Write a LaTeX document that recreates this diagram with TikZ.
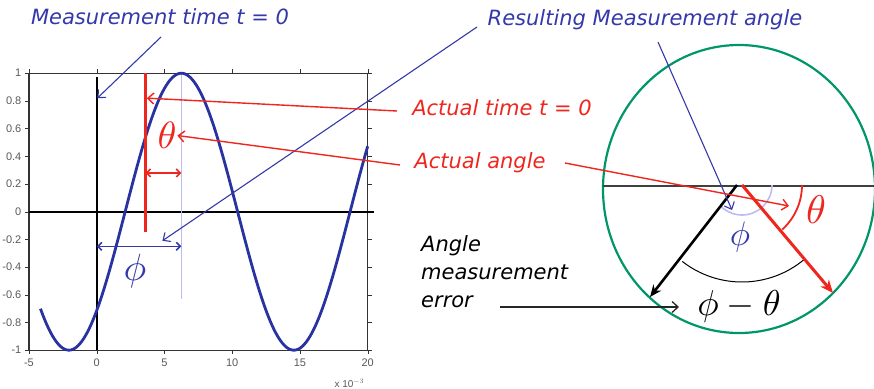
\documentclass[tikz,border=0pt]{standalone}
\usepackage{fontspec}
\setmainfont{DejaVu Sans}
\newfontfamily\tickfont{Liberation Sans}
\usetikzlibrary{arrows.meta}
\definecolor{mblue}{RGB}{52,56,170}
\definecolor{cblue}{RGB}{40,50,160}
\definecolor{mred}{RGB}{238,38,30}
\definecolor{mgreen}{RGB}{0,150,105}
\definecolor{lblue}{RGB}{188,188,242}
\tikzset{
  callout/.style={font=\fontsize{21}{28}\selectfont\itshape},
  bluearrow/.style={draw=mblue, line width=1.1pt, -{Straight Barb[length=6pt,width=11pt]}},
  redarrow/.style={draw=mred, line width=1.4pt, -{Straight Barb[length=6pt,width=11pt]}},
  ticklabel/.style={font=\tickfont\fontsize{11}{13}\selectfont, text=black!65},
  bigsym/.style={scale=3.8, inner sep=0pt},
}
\begin{document}
\begin{tikzpicture}[x=1pt, y=-1pt]
    \useasboundingbox (0,0) rectangle (874,388);
    % plot
    \begin{scope}[shift={(96.7,211.7)}, x=13.55pt, y=138.5pt]
        \draw[line width=1.2pt, black!80] (-5,-1) rectangle (20,1);
        \foreach \x in {-5,0,5,10,15,20} {
            \draw[black!80] (\x,-1) -- ++(0,-4pt);
            \draw[black!80] (\x,1) -- ++(0,4pt);
            \node[ticklabel, anchor=north] at (\x,-1.04) {\x};
        }
        \foreach \y in {-1,-0.8,-0.6,-0.4,-0.2,0,0.2,0.4,0.6,0.8,1} {
            \draw[black!80] (-5,\y) -- ++(-4pt,0);
            \draw[black!80] (20,\y) -- ++(4pt,0);
            \node[ticklabel, anchor=east] at (-5.3,\y) {\y};
        }
        \node[ticklabel, anchor=east, font=\tickfont\fontsize{10}{12}\selectfont] at (20,-1.24) {x 10$^{-3}$};
        \draw[line width=2pt] (-5,0) -- (20.5,0);
        \draw[line width=2pt] (0,0.97) -- (0,-1);
        \draw[lblue, line width=0.8pt] (6.25,1) -- (6.25,-0.63);
        \draw[cblue, line width=2.8pt, domain=-4.15:20, samples=150, smooth]
            plot (\x, {cos(360*(\x-6.25)/16.6)});
        \draw[mred, line width=2.5pt] (3.6,1) -- (3.6,-0.15);
        \draw[mred, line width=1.6pt, {Straight Barb[length=4pt,width=8pt]}-{Straight Barb[length=4pt,width=8pt]}] (3.6,0.28) -- (6.25,0.28);
        \draw[mblue, line width=1.6pt, {Straight Barb[length=4pt,width=8pt]}-{Straight Barb[length=4pt,width=8pt]}] (0,-0.25) -- (6.25,-0.25);
        \node[bigsym, text=mred] (thetaplot) at (5.2,0.55) {$\theta$};
        \node[bigsym, text=mblue] (phiplot) at (2.83,-0.43) {$\phi$};
        \coordinate (tzero) at (0.05,0.82);
        \coordinate (tact) at (3.7,0.82);
        \coordinate (phitip) at (4.85,-0.21);
    \end{scope}
    % labels
    \node[callout, text=mblue] (meastime) at (160,17) {Measurement time t = 0};
    \node[callout, text=mblue] (result) at (645,20) {Resulting Measurement angle};
    \node[callout, text=mred] (acttime) at (502,108) {Actual time t = 0};
    \node[callout, text=mred] (actangle) at (480,163) {Actual angle};
    \node[callout, align=left, anchor=north west, inner sep=0pt] (error) at (421,235) {Angle\\measurement\\error};
    \coordinate (mt) at (161,37);
    \coordinate (rs1) at (477,27);
    \coordinate (rs2) at (658,42);
    \coordinate (at1) at (397,111);
    \coordinate (aa1) at (400,165);
    \coordinate (aa2) at (565,163);
    \coordinate (er) at (500,307);
    % circle
    \coordinate (o) at (739,186);
    \coordinate (ob) at (737,185);
    \coordinate (or) at (742,185);
    \coordinate (blk) at (650,297);
    \coordinate (rd) at (833,293);
    \coordinate (bltip) at (732,210);
    \coordinate (rdtip) at (789,206);
    \coordinate (ertip) at (679,307);
    \draw[mgreen, line width=2.2pt] (739,189) ellipse [x radius=136, y radius=144];
    \draw[black!75, line width=1.2pt] (603,186) -- (874,186);
    \draw[lblue, line width=1.6pt] (or) ++(30,0) arc[start angle=0, end angle=135, radius=30];
    \draw[black, line width=1pt] (or) ++(128:97) arc[start angle=128, end angle=50, radius=97];
    \draw[mred, line width=1.8pt] (or) ++(60,0) arc[start angle=0, end angle=48, radius=60];
    \draw[black, line width=2.6pt, -{Stealth[length=12pt,width=10pt]}] (ob) -- (blk);
    \draw[mred, line width=3pt, -{Stealth[length=13pt,width=11pt]}] (or) -- (rd);
    \node[bigsym, text=mblue, scale=3.4/3.8] (phic) at (740,237) {$\phi$};
    \node[bigsym, text=mred, scale=4/3.8] (thetac) at (816,210) {$\theta$};
    \node[bigsym, scale=3.6/3.8] (diff) at (739,306) {$\phi-\theta$};
    % connectors
    \draw[bluearrow] (mt) -- (tzero);
    \draw[bluearrow] (rs1) -- (phitip);
    \draw[bluearrow] (rs2) -- (bltip);
    \draw[redarrow] (at1) -- (tact);
    \draw[redarrow] (aa1) -- (thetaplot.east);
    \draw[redarrow] (aa2) -- (rdtip);
    \draw[black!85, line width=1.3pt, -{Straight Barb[length=6pt,width=11pt]}] (er) -- (ertip);
\end{tikzpicture}
\end{document}
